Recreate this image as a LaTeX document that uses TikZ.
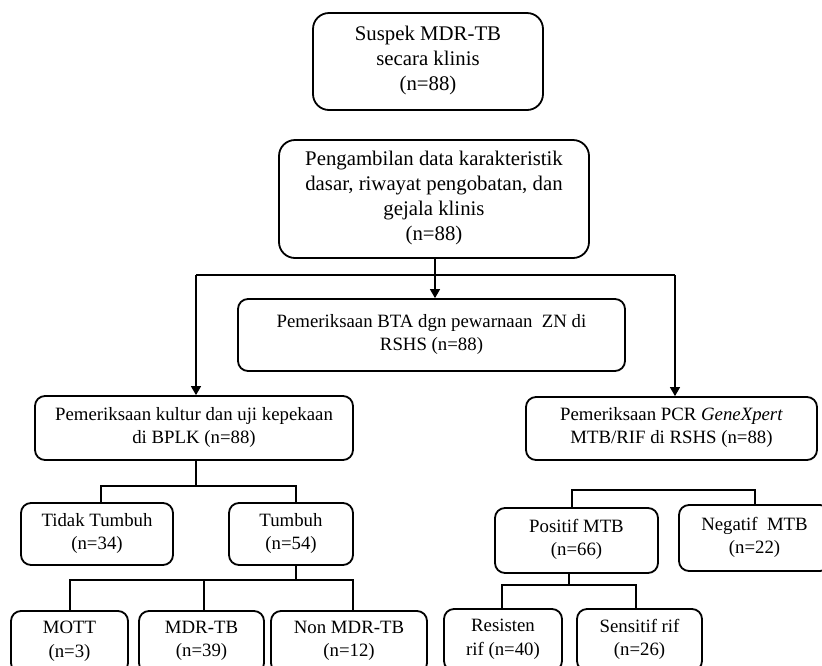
\documentclass[tikz,border=0pt]{standalone}
\usepackage{fontspec}
\setmainfont{Liberation Serif}
\usetikzlibrary{arrows.meta}
\newcommand{\bigfnt}{\fontsize{20.8}{24.8}\selectfont}
\newcommand{\lowfnt}{\fontsize{18.8}{23.3}\selectfont}
\begin{document}
\begin{tikzpicture}[x=1pt,y=-1pt,
  box/.style={draw, line width=1.8pt, rounded corners=10pt, align=center, inner sep=0pt, font=\lowfnt,
    execute at begin node={\rule{0pt}{0.96em}},
    execute at end node={\rule[-0.3em]{0pt}{0.3em}}},
  topbox/.style={box, rounded corners=16pt, font=\bigfnt},
  conn/.style={line width=1.4pt},
  arr/.style={conn, -{Triangle[length=9pt,width=10pt]}}]
\clip (0,0) rectangle (822,665);
\fill[white] (0,0) rectangle (822,665);

% nodes
\node[topbox, minimum width=230pt, minimum height=97pt] (s1) at (428,61.5) {Suspek MDR-TB\\secara klinis\\(n=88)};
\node[topbox, minimum width=310pt, minimum height=118pt] (b2) at (434,199) {Pengambilan data karakteristik\\dasar, riwayat pengobatan, dan\\gejala klinis\\(n=88)};
\node[box, minimum width=387pt, minimum height=72pt] (bta) at (431.5,335) {Pemeriksaan BTA dgn pewarnaan\ \ ZN di\\RSHS (n=88)};
\node[box, minimum width=318pt, minimum height=64pt] (cul) at (194,428) {Pemeriksaan kultur dan uji kepekaan\\di BPLK (n=88)};
\node[box, minimum width=291pt, minimum height=63pt] (pcr) at (671.5,428.5) {Pemeriksaan PCR \textit{GeneXpert}\\MTB/RIF di RSHS (n=88)};
\node[box, minimum width=152pt, minimum height=62pt] (tt) at (97,534) {Tidak Tumbuh\\(n=34)};
\node[box, minimum width=124pt, minimum height=62pt] (tb) at (291,534) {Tumbuh\\(n=54)};
\node[box, minimum width=117pt, minimum height=62pt] (mott) at (69.5,642) {MOTT\\(n=3)};
\node[box, minimum width=125pt, minimum height=62pt] (mdr) at (201.5,642) {MDR-TB\\(n=39)};
\node[box, minimum width=156pt, minimum height=62pt] (non) at (349,642) {Non MDR-TB\\(n=12)};
\node[box, minimum width=163pt, minimum height=65pt] (pos) at (576.5,540.5) {Positif MTB\\(n=66)};
\node[box, minimum width=151pt, minimum height=66pt] (neg) at (754.5,538) {Negatif\ \ MTB\\(n=22)};
\node[box, minimum width=118pt, minimum height=62pt] (res) at (503,640) {Resisten\\rif (n=40)};
\node[box, minimum width=125pt, minimum height=62pt] (sen) at (639.5,640) {Sensitif rif\\(n=26)};

% junction points
\coordinate (jl) at (196,275);
\coordinate (jr) at (675,275);
\coordinate (jm) at (435,275);
\coordinate (c1) at (196,486);
\coordinate (c1l) at (101,486);
\coordinate (c1r) at (296,486);
\coordinate (c2) at (296,580);
\coordinate (c2a) at (70,580);
\coordinate (c2b) at (204,580);
\coordinate (c2c) at (353,580);
\coordinate (p1l) at (572,490);
\coordinate (p1r) at (755,490);
\coordinate (p2) at (569,585);
\coordinate (p2l) at (502,585);
\coordinate (p2r) at (636,585);

% connectors
\draw[arr] (b2.south -| jm) -- (bta.north -| jm);
\draw[conn] (jl) -- (jr);
\draw[arr] (jl) -- (cul.north -| jl);
\draw[arr] (jr) -- (pcr.north -| jr);

\draw[conn] (cul.south -| c1) -- (c1);
\draw[conn] (tt.north -| c1l) -- (c1l) -- (c1r) -- (tb.north -| c1r);

\draw[conn] (tb.south -| c2) -- (c2);
\draw[conn] (mott.north -| c2a) -- (c2a) -- (c2c) -- (non.north -| c2c);
\draw[conn] (c2b) -- (mdr.north -| c2b);

\draw[conn] (pos.north -| p1l) -- (p1l) -- (p1r) -- (neg.north -| p1r);

\draw[conn] (pos.south -| p2) -- (p2);
\draw[conn] (res.north -| p2l) -- (p2l) -- (p2r) -- (sen.north -| p2r);
\end{tikzpicture}
\end{document}
